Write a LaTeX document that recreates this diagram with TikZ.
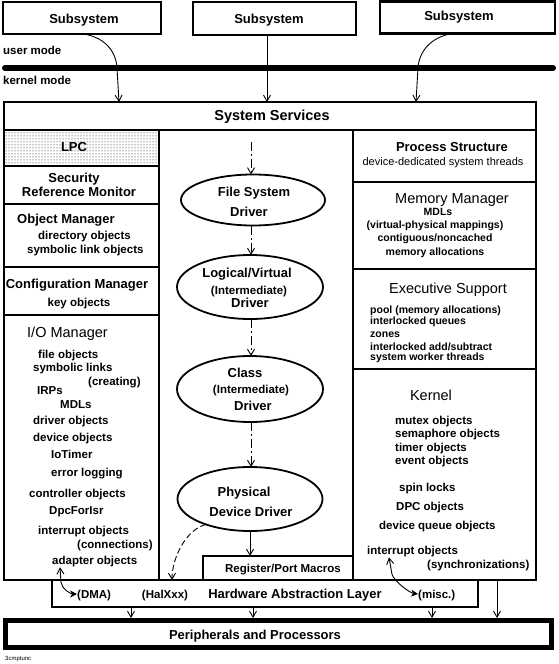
\documentclass[tikz,border=0pt]{standalone}
\usepackage{fontspec}
\setmainfont{Liberation Sans}
\usetikzlibrary{arrows.meta,patterns,calc,shapes.geometric}
\begin{document}
\begin{tikzpicture}[x=1pt,y=-1pt,
  frame/.style={draw, line width=2.4pt, inner sep=0pt, outer sep=0pt, anchor=north west},
  ell/.style={draw, ellipse, line width=1.8pt, inner sep=0pt, outer sep=0pt},
  tb/.style={font=\fontsize{11.5}{12}\selectfont\bfseries, inner sep=0pt, text height=8.3pt, text depth=0pt},
  tsm/.style={font=\fontsize{10.5}{11}\selectfont\bfseries, inner sep=0pt, text height=7.6pt, text depth=0pt},
  th/.style={font=\fontsize{13}{14}\selectfont\bfseries, inner sep=0pt, text height=9.4pt, text depth=0pt},
  tr/.style={font=\fontsize{14.5}{15}\selectfont, inner sep=0pt, text height=10.4pt, text depth=0pt},
  tthin/.style={font=\fontsize{11}{12}\selectfont, inner sep=0pt, text height=7.9pt, text depth=0pt},
  conn/.style={line width=0.9pt},
  barb/.style={-{Straight Barb[length=6pt,width=7pt]}},
  dashdot/.style={dash pattern=on 9pt off 3pt on 2pt off 3pt},
  dbl/.style={{Straight Barb[length=6pt,width=7pt]}-{Stealth[length=7pt,width=7pt]}}
]
\useasboundingbox (0,0) rectangle (558,664);

% Subsystems
\node[frame, minimum width=158pt, minimum height=32pt] (sub1) at (3,2) {};
\node[frame, minimum width=163pt, minimum height=33pt] (sub2) at (193,2) {};
\node[frame, minimum width=175pt, minimum height=32pt] (sub3) at (380,1.5) {};
\node[th] (sub1t) at (84,19) {Subsystem};
\node[th] (sub2t) at (269,19) {Subsystem};
\node[th] (sub3t) at (459,16) {Subsystem};

\node[tb, anchor=west] (um) at (3,50) {user mode};
\node[tb, anchor=west] (km) at (3,80) {kernel mode};
\coordinate (kl) at (5,68);
\coordinate (kr) at (553,68);
\draw[line width=6pt, line cap=round] (kl) -- (kr);

% main frame
\node[frame, minimum width=532pt, minimum height=478pt] (main) at (4,102) {};
\node[frame, minimum width=532pt, minimum height=28pt] (sys) at (4,102) {};
\node[font=\fontsize{14.5}{15}\selectfont\bfseries, inner sep=0pt, text height=10.4pt, text depth=0pt] (syst) at (272,115) {System Services};

% subsystem arrows
\draw[conn, barb] ($(sub1.south west)+(81,0)$) .. controls +(22,4) and +(-1,-16) .. (117,68) -- ($(sys.north west)+(115,0)$);
\draw[conn, barb] ($(sub2.south west)+(74,0)$) -- ($(sys.north west)+(263,0)$);
\draw[conn, barb] ($(sub3.south west)+(72,0)$) .. controls +(-22,4) and +(1,-16) .. (418,68) -- ($(sys.north west)+(412,0)$);

% left column
\node[frame, pattern=dots, minimum width=155pt, minimum height=36pt] (lpc) at (4,130) {};
\node[frame, minimum width=155pt, minimum height=38pt] (srm) at (4,166) {};
\node[frame, minimum width=155pt, minimum height=63pt] (om) at (4,204) {};
\node[frame, minimum width=155pt, minimum height=48pt] (cm) at (4,267) {};
\node[frame, minimum width=155pt, minimum height=265pt] (io) at (4,315) {};

\node[th] (lpct) at (74,147) {LPC};
\node[th] (srm1) at (74,178) {Security};
\node[th] (srm2) at (79,192) {Reference Monitor};
\node[th, anchor=west] (omt) at (17,219) {Object Manager};
\node[tb, anchor=west] (om1) at (38,235) {directory objects};
\node[tb, anchor=west] (om2) at (27,249) {symbolic link objects};
\node[th] (cmt) at (77,284) {Configuration Manager};
\node[tb] (cm1) at (79,302) {key objects};

\node[tr, anchor=west] (iot) at (27,332) {I/O Manager};
\node[tb, anchor=west] (io1) at (38,354) {file objects};
\node[tb, anchor=west] (io2) at (33,367) {symbolic links};
\node[tb, anchor=west] (io3) at (88,381) {(creating)};
\node[tb, anchor=west] (io4) at (37,390) {IRPs};
\node[tb, anchor=west] (io5) at (60,404) {MDLs};
\node[tb, anchor=west] (io6) at (33,420) {driver objects};
\node[tb, anchor=west] (io7) at (33,437) {device objects};
\node[tb, anchor=west] (io8) at (51,454) {IoTimer};
\node[tb, anchor=west] (io9) at (51,472) {error logging};
\node[tb, anchor=west] (io10) at (29,493) {controller objects};
\node[tb, anchor=west] (io11) at (49,510) {DpcForIsr};
\node[tb, anchor=west] (io12) at (38,530) {interrupt objects};
\node[tb, anchor=west] (io13) at (77,544) {(connections)};
\node[tb, anchor=west] (adapt) at (52,560) {adapter objects};

% right column
\node[frame, minimum width=183pt, minimum height=52pt] (ps) at (353,130) {};
\node[frame, minimum width=183pt, minimum height=87pt] (mm) at (353,182) {};
\node[frame, minimum width=183pt, minimum height=100pt] (es) at (353,269) {};
\node[frame, minimum width=183pt, minimum height=211pt] (kern) at (353,369) {};

\node[th] (pst) at (452,147) {Process Structure};
\node[tthin] (ps1) at (443,162) {device-dedicated system threads};
\node[tr] (mmt) at (452,198) {Memory Manager};
\node[tsm] (mm1) at (438,212) {MDLs};
\node[tsm] (mm2) at (435,225) {(virtual-physical mappings)};
\node[tsm] (mm3) at (435,238) {contiguous/noncached};
\node[tsm] (mm4) at (435,252) {memory allocations};
\node[tr] (est) at (448,288) {Executive Support};
\node[tsm, anchor=west] (es1) at (370,310) {pool (memory allocations)};
\node[tsm, anchor=west] (es2) at (370,321) {interlocked queues};
\node[tsm, anchor=west] (es3) at (370,334) {zones};
\node[tsm, anchor=west] (es4) at (370,347) {interlocked add/subtract};
\node[tsm, anchor=west] (es5) at (370,357) {system worker threads};

\node[tr] (kt) at (431,395) {Kernel};
\node[tb, anchor=west] (k1) at (395,420) {mutex objects};
\node[tb, anchor=west] (k2) at (395,433) {semaphore objects};
\node[tb, anchor=west] (k3) at (395,447) {timer objects};
\node[tb, anchor=west] (k4) at (395,460) {event objects};
\node[tb, anchor=west] (k5) at (399,487) {spin locks};
\node[tb, anchor=west] (k6) at (396,506) {DPC objects};
\node[tb, anchor=west] (k7) at (379,525) {device queue objects};
\node[tb, anchor=west] (kint) at (367,550) {interrupt objects};
\node[tb, anchor=west] (k9) at (427,564) {(synchronizations)};

% center drivers
\node[ell, minimum width=144pt, minimum height=51pt] (e1) at (253,200) {};
\node[ell, minimum width=146pt, minimum height=64pt] (e2) at (250,287) {};
\node[ell, minimum width=146pt, minimum height=66pt] (e3) at (250,389) {};
\node[ell, minimum width=145pt, minimum height=64pt] (e4) at (250,499) {};

\node[th] (e1a) at (254,192) {File System};
\node[th] (e1b) at (249,212) {Driver};
\node[th] (e2a) at (247,273) {Logical/Virtual};
\node[tb] (e2b) at (249,290) {(Intermediate)};
\node[th] (e2c) at (250,303) {Driver};
\node[th] (e3a) at (245,373) {Class};
\node[tb] (e3b) at (251,389) {(Intermediate)};
\node[th] (e3c) at (253,406) {Driver};
\node[th] (e4a) at (244,492) {Physical};
\node[th] (e4b) at (251,512) {Device Driver};

\coordinate (ssin) at (251,142);
\draw[conn, dashdot, barb] (ssin) -- (ssin |- e1.north);
\draw[conn, dashdot, barb] (ssin |- e1.south) -- (ssin |- e2.north);
\draw[conn, dashdot, barb] (ssin |- e2.south) -- (ssin |- e3.north);
\draw[conn, dashdot, barb] (ssin |- e3.south) -- (ssin |- e4.north);

% register / port macros
\node[frame, minimum width=150pt, minimum height=24pt] (reg) at (203,556) {};
\node[tb] (regt) at (283,568) {Register/Port Macros};
\draw[conn, barb] (e4.south) -- (e4.south |- reg.north);

% HAL
\node[frame, minimum width=426pt, minimum height=27pt] (hal) at (52,580) {};
\node[tb, anchor=west] (dma) at (77,594) {(DMA)};
\node[tb] (halx) at (165,594) {(HalXxx)};
\node[th] (halt) at (295,594) {Hardware Abstraction Layer};
\node[tb, anchor=west] (misc) at (418,594) {(misc.)};

\draw[conn, dash pattern=on 6pt off 3pt, barb] (e4.210) .. controls +(-20,5) and +(0,-22) .. ($(hal.north west)+(120,0)$);

% DMA and misc arrows
\draw[conn, dbl] ($(adapt.south west)+(8,3)$) -- ++(1,15) .. controls +(1,7) and +(-6,0) .. (dma.west);
\draw[conn, dbl] ($(kint.south west)+(22,3)$) -- ++(3,17) .. controls +(2,7) and +(-8,-1) .. (misc.west);

% Peripherals
\node[draw, line width=5pt, inner sep=0pt, outer sep=0pt, anchor=north west, minimum width=546.5pt, minimum height=27pt] (per) at (5,620.5) {};
\node[th] (pert) at (255,635) {Peripherals and Processors};
\node[font=\fontsize{6}{6}\selectfont, inner sep=0pt, anchor=west] (foot) at (5,659) {3cmptunc};

\coordinate (h1) at ($(hal.south west)+(79,0)$);
\coordinate (h2) at ($(hal.south west)+(201,0)$);
\coordinate (h3) at ($(hal.south west)+(380,0)$);
\coordinate (k0) at ($(kern.south west)+(144,0)$);
\foreach \c in {h1,h2,h3,k0}{
  \draw[conn, barb, shorten >=2.5pt] (\c) -- (\c |- per.north);
}
\end{tikzpicture}
\end{document}
